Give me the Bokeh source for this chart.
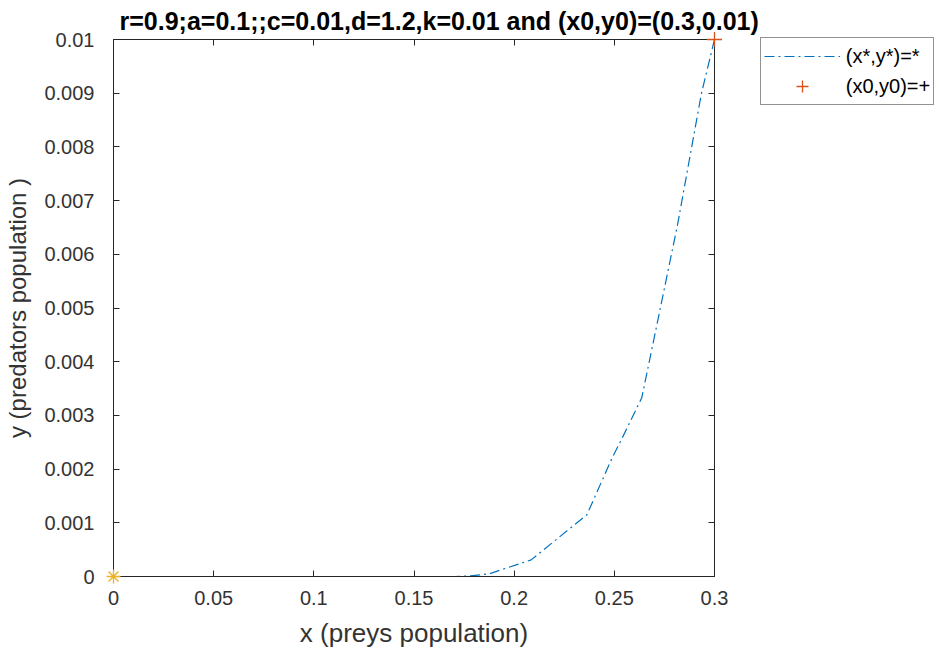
from bokeh.plotting import figure
from bokeh.models import (Range1d, FixedTicker, LinearAxis, Legend, LegendItem, ColumnDataSource)
from bokeh.embed import file_html
from bokeh.resources import INLINE

# ---- data ----
prey_x = [0.3, 0.2935, 0.2816, 0.2706, 0.2637, 0.2542, 0.2488, 0.2363, 0.2085,
          0.1876, 0.178, 0.17, 0.15, 0.1, 0.05, 0.0]
predator_y = [0.01, 0.0090, 0.00656, 0.00457, 0.00333, 0.0026, 0.0022, 0.00115,
              0.00031, 0.00005, 0.00001, 0.0, 0.0, 0.0, 0.0, 0.0]
equilibrium_x = [0.0]
equilibrium_y = [0.0]
initial_x = [0.3]
initial_y = [0.01]

x_ticks = [0, 0.05, 0.1, 0.15, 0.2, 0.25, 0.3]
x_tick_labels = ["0", "0.05", "0.1", "0.15", "0.2", "0.25", "0.3"]
y_ticks = [0, 0.001, 0.002, 0.003, 0.004, 0.005, 0.006, 0.007, 0.008, 0.009, 0.01]
y_tick_labels = ["0", "0.001", "0.002", "0.003", "0.004", "0.005", "0.006",
                 "0.007", "0.008", "0.009", "0.01"]

title_text = "r=0.9;a=0.1;;c=0.01,d=1.2,k=0.01 and (x0,y0)=(0.3,0.01)"
x_label = "x (preys population)"
y_label = "y (predators population )"
legend_labels = ["(x*,y*)=*", "(x0,y0)=+"]

FONT = "Liberation Sans"
AX = "#262626"

p = figure(width=940, height=647, output_backend="svg", toolbar_location=None,
           x_range=Range1d(0, 0.3), y_range=Range1d(0, 0.01),
           frame_width=601, frame_height=537,
           min_border_left=113, min_border_right=0, min_border_top=38, min_border_bottom=5)

p.title.text = title_text
p.title.align = "left"
p.title.text_font = FONT
p.title.text_font_size = "25px"
p.title.text_font_style = "bold"
p.title.text_color = "#000000"
p.title.offset = 6
p.title.standoff = 9

p.grid.visible = False
p.outline_line_color = AX
p.outline_line_width = 1
p.background_fill_color = "white"
p.border_fill_color = "white"

def style_axis(ax, ticks, labels, show_labels=True):
    ax.ticker = FixedTicker(ticks=ticks)
    ax.major_label_overrides = {t: l for t, l in zip(ticks, labels)}
    ax.major_tick_in = 6
    ax.major_tick_out = 0
    ax.minor_tick_in = 0
    ax.minor_tick_out = 0
    ax.axis_line_color = AX
    ax.major_tick_line_color = AX
    ax.major_label_text_font = FONT
    ax.major_label_text_font_size = "20px"
    ax.major_label_text_color = "#333333"
    ax.axis_label_text_font = FONT
    ax.axis_label_text_font_size = "24px"
    ax.axis_label_text_font_style = "normal"
    ax.axis_label_text_color = "#333333"
    if not show_labels:
        ax.major_label_text_color = None
        ax.major_label_text_font_size = "1px"
        ax.major_label_standoff = 0
        ax.axis_label_standoff = 0

style_axis(p.xaxis[0], x_ticks, x_tick_labels)
style_axis(p.yaxis[0], y_ticks, y_tick_labels)
p.xaxis[0].axis_label = x_label
p.yaxis[0].axis_label = y_label
p.xaxis[0].axis_label_text_font_size = "26px"
p.xaxis[0].major_label_standoff = 14
p.yaxis[0].major_label_standoff = 19
p.xaxis[0].axis_label_standoff = 10
p.yaxis[0].axis_label_standoff = 10

top_ax = LinearAxis()
style_axis(top_ax, x_ticks, x_tick_labels, show_labels=False)
p.add_layout(top_ax, "above")
right_ax = LinearAxis()
style_axis(right_ax, y_ticks, y_tick_labels, show_labels=False)
p.add_layout(right_ax, "right")

src = ColumnDataSource(data=dict(x=prey_x, y=predator_y))
line_r = p.line("x", "y", source=src, line_color="#0072BD", line_width=1.2,
                line_dash="10 4 2 4")
plus_r = p.scatter(x=initial_x, y=initial_y, marker="cross", size=15,
                   line_color="#D95319", line_width=1.3, level="overlay")
star_r = p.scatter(x=equilibrium_x, y=equilibrium_y, marker="asterisk", size=14,
                   line_color="#EDB120", line_width=1.3, level="overlay")

legend = Legend(items=[LegendItem(label=legend_labels[0], renderers=[line_r]),
                       LegendItem(label=legend_labels[1], renderers=[plus_r])],
                location=(-166, 471))
legend.label_text_font = FONT
legend.label_text_font_size = "20px"
legend.label_text_color = "#000000"
legend.border_line_color = AX
legend.border_line_width = 1
legend.background_fill_color = "white"
legend.glyph_width = 76
legend.glyph_height = 30
legend.spacing = 0
legend.padding = 3
legend.margin = 0
legend.label_standoff = 6
legend.label_height = 30
p.add_layout(legend, "right")

open("out.html", "w").write(file_html(p, INLINE))
